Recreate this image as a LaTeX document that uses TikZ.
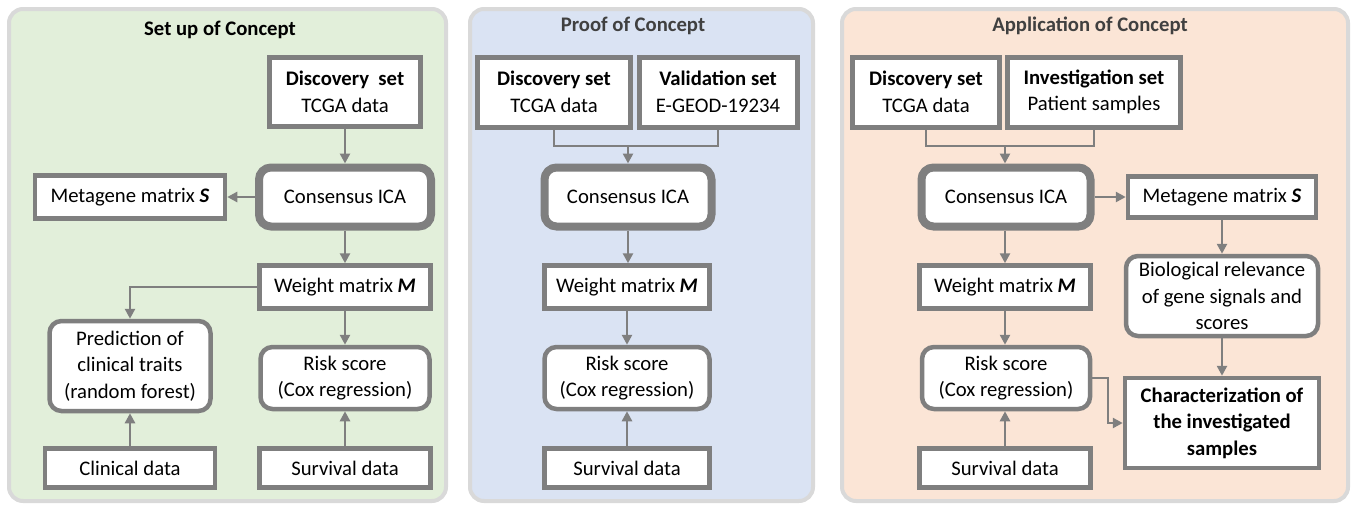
\documentclass[tikz,border=0pt]{standalone}
\usepackage{fontspec}
\setmainfont{Carlito}
\usetikzlibrary{arrows.meta}
\definecolor{boxgray}{HTML}{7F7F7F}
\definecolor{panelgray}{HTML}{D9D9D9}
\definecolor{setupgreen}{HTML}{E2EFDA}
\definecolor{proofblue}{HTML}{DAE3F3}
\definecolor{applypeach}{HTML}{FBE5D6}
\definecolor{titlegray}{HTML}{404040}
\tikzset{
  panel/.style={draw=panelgray, line width=4pt, rounded corners=14pt},
  title/.style={font=\fontsize{20.7}{24}\selectfont\bfseries},
  box/.style={draw=boxgray, fill=white, line width=4.5pt, align=center, inner sep=0pt, font=\fontsize{20.7}{26.5}\selectfont},
  rbox/.style={box, rounded corners=12pt},
  ica/.style={rbox, line width=8pt},
  arr/.style={draw=boxgray, line width=2.5pt, -{Triangle[length=10pt,width=10pt]}},
  merge/.style={draw=boxgray, line width=2.5pt}
}
\begin{document}
\begin{tikzpicture}[x=1pt,y=-1pt]
\useasboundingbox (0,0) rectangle (1354,506);
\draw [panel, fill=setupgreen] (9,9) rectangle (446,501);
\draw [panel, fill=proofblue] (470,9) rectangle (813,501);
\draw [panel, fill=applypeach] (842,9) rectangle (1348,501);
\node [title] (t1) at (220,30) {Set up of Concept};
\node [title, text=titlegray] (t2) at (633,26) {Proof of Concept};
\node [title, text=titlegray] (t3) at (1090,26) {Application of Concept};
\node [box, line width=5pt, minimum width=151pt, minimum height=69pt] (disc1) at (345,92) {\textbf{Discovery\ \ set}\\TCGA data};
\node [ica, minimum width=172pt, minimum height=59pt] (cica1) at (345,197) {Consensus ICA};
\node [box, minimum width=190pt, minimum height=43pt] (meta1) at (130,197) {Metagene matrix \textbf{\textit{S}}};
\node [box, minimum width=171pt, minimum height=43pt] (wm1) at (345,287) {Weight matrix \textbf{\textit{M}}};
\node [rbox, minimum width=161pt, minimum height=90pt] (pred1) at (130,366) {Prediction of\\clinical traits\\(random forest)};
\node [rbox, minimum width=169pt, minimum height=62pt] (risk1) at (345,378) {Risk score\\(Cox regression)};
\node [box, minimum width=170pt, minimum height=39pt] (clin1) at (130,468) {Clinical data};
\node [box, minimum width=171pt, minimum height=39pt] (surv1) at (345,468) {Survival data};
\node [box, line width=5pt, minimum width=153pt, minimum height=70pt] (disc2) at (554,92) {\textbf{Discovery set}\\TCGA data};
\node [box, line width=5pt, minimum width=158pt, minimum height=70pt] (val2) at (718,92) {\textbf{Validation set}\\E-GEOD-19234};
\node [ica, minimum width=167pt, minimum height=59pt] (cica2) at (628,197) {Consensus ICA};
\node [box, minimum width=165pt, minimum height=43pt] (wm2) at (627,287) {Weight matrix \textbf{\textit{M}}};
\node [rbox, minimum width=165pt, minimum height=62pt] (risk2) at (627,378) {Risk score\\(Cox regression)};
\node [box, minimum width=165pt, minimum height=39pt] (surv2) at (627,468) {Survival data};
\node [box, line width=5pt, minimum width=147pt, minimum height=70pt] (disc3) at (926,92) {\textbf{Discovery set}\\TCGA data};
\node [box, line width=5pt, minimum width=173pt, minimum height=70pt] (inv3) at (1094,92) {\textbf{Investigation set}\\Patient samples};
\node [ica, minimum width=169pt, minimum height=59pt] (cica3) at (1006,197) {Consensus ICA};
\node [box, minimum width=188pt, minimum height=41pt] (meta3) at (1222,197) {Metagene matrix \textbf{\textit{S}}};
\node [rbox, minimum width=192pt, minimum height=80pt] (bio3) at (1222,296) {Biological relevance\\of gene signals and\\scores};
\node [box, minimum width=171pt, minimum height=43pt] (wm3) at (1005,287) {Weight matrix \textbf{\textit{M}}};
\node [rbox, minimum width=168pt, minimum height=62pt] (risk3) at (1006,378) {Risk score\\(Cox regression)};
\node [box, minimum width=171pt, minimum height=39pt] (surv3) at (1005,468) {Survival data};
\node [box, minimum width=194pt, minimum height=90pt] (char3) at (1222,423) {\textbf{Characterization of}\\\textbf{the investigated}\\\textbf{samples}};
\coordinate (join2) at (628,146);
\coordinate (join3) at (1005,146);
\coordinate (bend3) at (1108,378);
\draw [arr] (disc1) -- (cica1);
\draw [arr] (cica1) -- (meta1);
\draw [arr] (cica1) -- (wm1);
\draw [arr] (wm1.west) -| (pred1.north);
\draw [arr] (wm1) -- (risk1);
\draw [arr] (clin1) -- (pred1);
\draw [arr] (surv1) -- (risk1);
\draw [merge] (disc2.south) |- (join2) -| (val2.south);
\draw [arr] (join2) -- (cica2.north);
\draw [arr] (cica2.south) -- (wm2.north -| cica2.south);
\draw [arr] (wm2) -- (risk2);
\draw [arr] (surv2) -- (risk2);
\draw [merge] (disc3.south) |- (join3) -| (inv3.south);
\draw [arr] (join3) -- (cica3.north -| join3);
\draw [arr] (cica3) -- (meta3);
\draw [arr] (cica3.south -| wm3) -- (wm3);
\draw [arr] (meta3) -- (bio3);
\draw [arr] (wm3) -- (risk3.north -| wm3);
\draw [arr] (surv3) -- (risk3.south -| surv3);
\draw [arr] (bio3) -- (char3);
\draw [arr] (risk3.east) -- (bend3) |- (char3.west);
\end{tikzpicture}
\end{document}
